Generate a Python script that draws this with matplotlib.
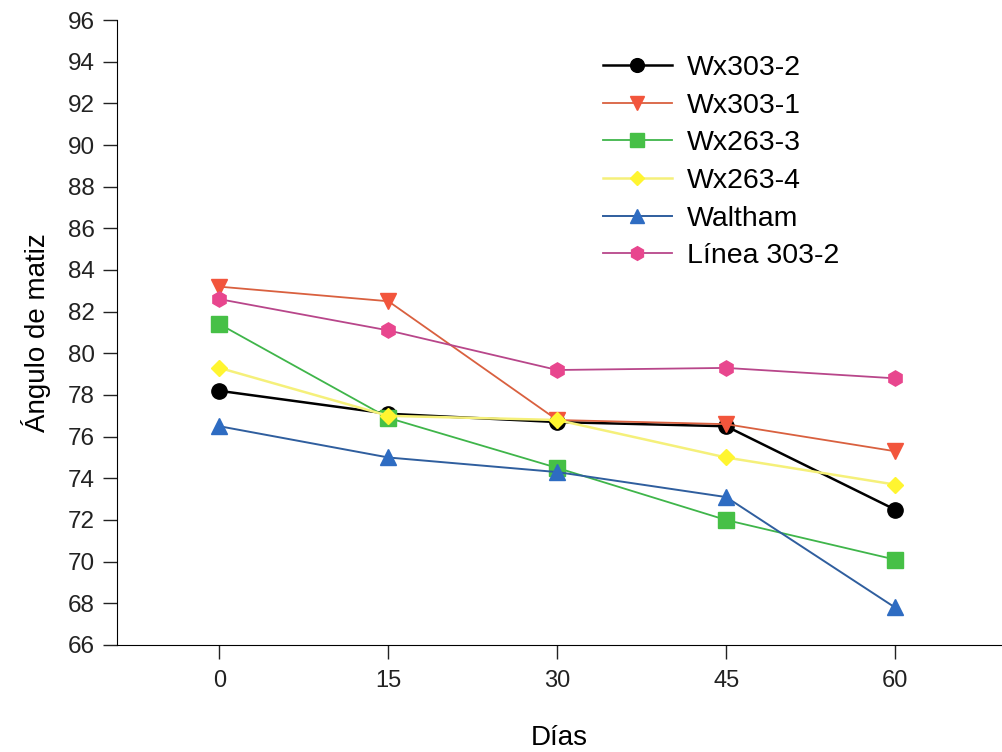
import matplotlib.pyplot as plt

days = [0, 15, 30, 45, 60]

wx303_2 = [78.2, 77.1, 76.7, 76.5, 72.5]
wx303_1 = [83.2, 82.5, 76.8, 76.6, 75.3]
wx263_3 = [81.4, 76.9, 74.5, 72.0, 70.1]
wx263_4 = [79.3, 77.0, 76.8, 75.0, 73.7]
waltham = [76.5, 75.0, 74.3, 73.1, 67.8]
linea303_2 = [82.6, 81.1, 79.2, 79.3, 78.8]

y_ticks = list(range(66, 97, 2))

plt.rcParams["font.family"] = ["Liberation Sans", "DejaVu Sans"]

fig = plt.figure(figsize=(10.02, 7.52), dpi=100)
ax = fig.add_axes([0.1168, 0.1423, 0.8832, 0.8311])

series = [
    ("Wx303-2", wx303_2, "o", "#000000", "#000000", 1.8),
    ("Wx303-1", wx303_1, "v", "#F2553C", "#D9603F", 1.3),
    ("Wx263-3", wx263_3, "s", "#46C046", "#3FB54A", 1.3),
    ("Wx263-4", wx263_4, "D", "#FFF530", "#F5F07A", 1.8),
    ("Waltham", waltham, "^", "#2E6CC2", "#2F5E9E", 1.4),
    ("Línea 303-2", linea303_2, "h", "#E8468E", "#B8468A", 1.3),
]

for label, vals, mk, mcol, lcol, lw in series:
    ms = 8 if mk == "D" else 11
    ax.plot(days, vals, color=lcol, lw=lw, marker=mk, markersize=ms,
            markerfacecolor=mcol, markeredgecolor=mcol, label=label)

ax.set_xlim(-9.1, 69.5)
ax.set_ylim(66, 96)
ax.set_xticks(days)
ax.set_yticks(y_ticks)
ax.spines["top"].set_visible(False)
ax.spines["right"].set_visible(False)
ax.tick_params(axis="both", direction="out", length=10, width=1, colors="#222222")
ax.tick_params(axis="y", labelsize=17.5, pad=6)
ax.tick_params(axis="x", labelsize=17, pad=8)

ax.set_xlabel("Días", fontsize=20, labelpad=24)
ax.set_ylabel("Ángulo de matiz", fontsize=20, labelpad=12)

ax.legend(loc="upper left", bbox_to_anchor=(603 / 1002, 1 - 55 / 752),
          bbox_transform=fig.transFigure, frameon=False, fontsize=20.5,
          borderpad=0, borderaxespad=0, handlelength=2.42, handletextpad=0.53,
          labelspacing=0.41, markerscale=0.9)

fig.savefig("out.png", dpi=100)
